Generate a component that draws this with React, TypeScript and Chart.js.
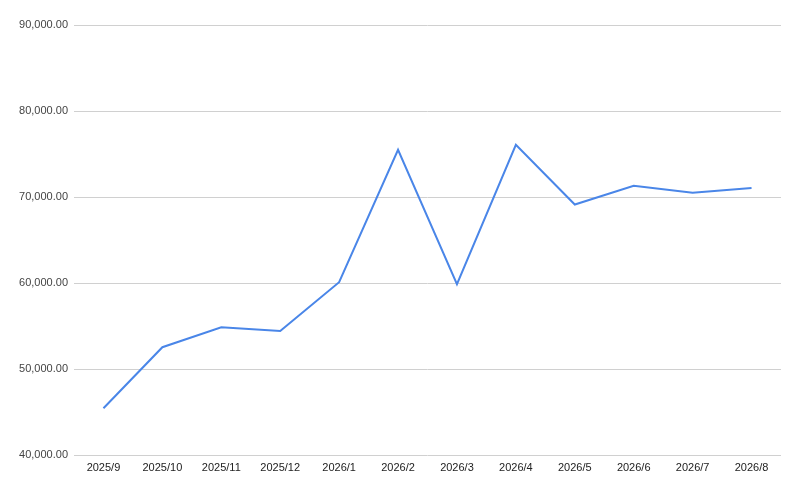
import { useEffect, useRef } from 'react';
import Chart from 'chart.js/auto';

const months = [
	'2025/9', '2025/10', '2025/11', '2025/12', '2026/1', '2026/2',
	'2026/3', '2026/4', '2026/5', '2026/6', '2026/7', '2026/8',
];
const values = [
	45470, 52560, 54880, 54450, 60120, 75500,
	59880, 76080, 69140, 71310, 70500, 71050,
];
const yMin = 40000;
const yMax = 90000;
const yStep = 10000;

const fmt = (v: number) =>
	v.toLocaleString('en-US', { minimumFractionDigits: 2, maximumFractionDigits: 2 });

export default function App() {
	const canvasRef = useRef<HTMLCanvasElement>(null);

	useEffect(() => {
		document.body.style.margin = '0';
		if (!canvasRef.current) return;
		const chart = new Chart(canvasRef.current, {
			type: 'line',
			data: {
				labels: months,
				datasets: [
					{
						data: values,
						borderColor: '#4a86e8',
						borderWidth: 2,
						pointRadius: 0,
						tension: 0,
					},
				],
			},
			options: {
				animation: false,
				responsive: false,
				layout: { padding: { top: 25, right: 19, left: 0, bottom: 0 } },
				plugins: { legend: { display: false }, tooltip: { enabled: false } },
				scales: {
					x: {
						offset: true,
						grid: { display: false },
						border: { display: false },
						ticks: {
							color: '#222',
							font: { family: 'Arial, "Liberation Sans"', size: 11 },
							maxRotation: 0,
							autoSkip: false,
							padding: -2,
						},
						afterFit: (s: any) => {
							s.height = 33.7;
						},
					},
					y: {
						min: yMin,
						max: yMax,
						grid: { color: '#d0d0d0', drawTicks: false },
						border: { display: false },
						ticks: {
							stepSize: yStep,
							color: '#444',
							padding: 6,
							font: { family: 'Arial, "Liberation Sans"', size: 11 },
							callback: (v: any) => fmt(Number(v)),
						},
						afterFit: (s: any) => {
							s.width = 74;
						},
					},
				},
			},
		});
		return () => chart.destroy();
	}, []);

	return <canvas ref={canvasRef} width={800} height={489}></canvas>;
}
